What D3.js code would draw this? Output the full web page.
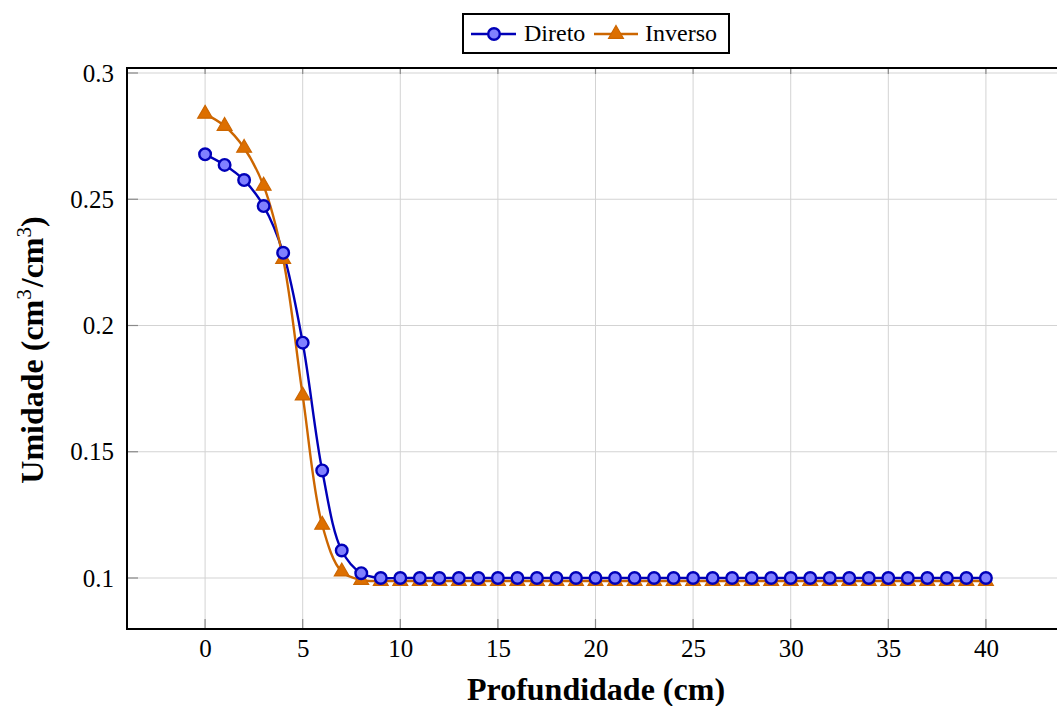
<!DOCTYPE html>
<html>
<head>
<meta charset="utf-8">
<script src="https://cdn.jsdelivr.net/npm/d3@7"></script>
<style>
  body { margin: 0; background: #fff; }
  svg { font-family: "Liberation Serif", "Times New Roman", serif; }
</style>
</head>
<body>
<svg id="chart" width="1057" height="706"></svg>
<script>
// depth (cm)
var depth = d3.range(0, 41);

var direto = [0.2678, 0.2636, 0.2576, 0.2473, 0.2288, 0.1932, 0.1426, 0.1109, 0.1019,
  0.1000, 0.1000, 0.1000, 0.1000, 0.1000, 0.1000, 0.1000, 0.1000, 0.1000, 0.1000, 0.1000,
  0.1000, 0.1000, 0.1000, 0.1000, 0.1000, 0.1000, 0.1000, 0.1000, 0.1000, 0.1000, 0.1000,
  0.1000, 0.1000, 0.1000, 0.1000, 0.1000, 0.1000, 0.1000, 0.1000, 0.1000, 0.1000];

var inverso = [0.2838, 0.2790, 0.2703, 0.2553, 0.2263, 0.1722, 0.1210, 0.1025, 0.0992,
  0.0988, 0.0988, 0.0988, 0.0988, 0.0988, 0.0988, 0.0988, 0.0988, 0.0988, 0.0988, 0.0988,
  0.0988, 0.0988, 0.0988, 0.0988, 0.0988, 0.0988, 0.0988, 0.0988, 0.0988, 0.0988, 0.0988,
  0.0988, 0.0988, 0.0988, 0.0988, 0.0988, 0.0988, 0.0988, 0.0988, 0.0988, 0.0988];

var xTicks = [0, 5, 10, 15, 20, 25, 30, 35, 40];
var yTicks = [0.1, 0.15, 0.2, 0.25, 0.3];

var svg = d3.select("#chart"),
    margin = {top: 68, left: 127},
    plotRight = 1064,
    plotBottom = 629;

var x = d3.scaleLinear().domain([-4, 44]).range([margin.left, plotRight]);
var y = d3.scaleLinear().domain([0.3, 0.1]).range([73, 578]);

var gridColor = "#d3d3d3";

// grid
svg.append("g").selectAll("line").data(xTicks).join("line")
    .attr("x1", d => x(d)).attr("x2", d => x(d))
    .attr("y1", margin.top).attr("y2", plotBottom)
    .attr("stroke", gridColor).attr("stroke-width", 1);
svg.append("g").selectAll("line").data(yTicks).join("line")
    .attr("y1", d => y(d)).attr("y2", d => y(d))
    .attr("x1", margin.left).attr("x2", plotRight)
    .attr("stroke", gridColor).attr("stroke-width", 1);

// inner tick marks
var tickColor = "#8a8a8a";
xTicks.forEach(function(t) {
  svg.append("line").attr("x1", x(t)).attr("x2", x(t)).attr("y1", plotBottom).attr("y2", plotBottom - 10)
    .attr("stroke", tickColor).attr("stroke-width", 1.2);
  svg.append("line").attr("x1", x(t)).attr("x2", x(t)).attr("y1", margin.top).attr("y2", margin.top + 6)
    .attr("stroke", tickColor).attr("stroke-width", 1.2);
});
yTicks.forEach(function(t) {
  svg.append("line").attr("x1", margin.left).attr("x2", margin.left + 11).attr("y1", y(t)).attr("y2", y(t))
    .attr("stroke", tickColor).attr("stroke-width", 1.2);
});

// axes labels
var xAxis = d3.axisBottom(x).tickValues(xTicks).tickSize(0).tickPadding(10).tickFormat(d3.format("d"));
var yAxis = d3.axisLeft(y).tickValues(yTicks).tickSize(0).tickPadding(13).tickFormat(d => String(d));

var gx = svg.append("g").attr("transform", "translate(0," + plotBottom + ")").call(xAxis);
var gy = svg.append("g").attr("transform", "translate(" + margin.left + ",0)").call(yAxis);
[gx, gy].forEach(function(g) {
  g.select(".domain").remove();
  g.selectAll("text").attr("font-size", 25).attr("fill", "#000")
    .attr("font-family", "Liberation Serif, serif");
});

// frame
svg.append("rect")
    .attr("x", margin.left).attr("y", margin.top)
    .attr("width", plotRight - margin.left).attr("height", plotBottom - margin.top)
    .attr("fill", "none").attr("stroke", "#000").attr("stroke-width", 2);

// series
var blue = "#0000b8", blueFill = "#8080ff";
var orange = "#cc6600", orangeFill = "#dd6f00";

var line = d3.line()
    .curve(d3.curveCatmullRom.alpha(0.5))
    .x((d, i) => x(depth[i]))
    .y(d => y(d));

svg.append("path").datum(direto).attr("d", line)
    .attr("fill", "none").attr("stroke", blue).attr("stroke-width", 2.4);
svg.append("path").datum(inverso).attr("d", line)
    .attr("fill", "none").attr("stroke", orange).attr("stroke-width", 2.4);

var tri = d3.symbol().type(d3.symbolTriangle).size(95);

svg.append("g").selectAll("path").data(inverso).join("path")
    .attr("d", tri)
    .attr("transform", (d, i) => "translate(" + x(depth[i]) + "," + y(d) + ")")
    .attr("fill", orangeFill).attr("stroke", orange).attr("stroke-width", 1.2);

svg.append("g").selectAll("circle").data(direto).join("circle")
    .attr("cx", (d, i) => x(depth[i])).attr("cy", d => y(d)).attr("r", 5.8)
    .attr("fill", blueFill).attr("stroke", blue).attr("stroke-width", 2.4);

// axis titles
svg.append("text")
    .attr("x", 596).attr("y", 700)
    .attr("text-anchor", "middle").attr("font-size", 32).attr("font-weight", "bold")
    .text("Profundidade (cm)");

var yt = svg.append("text")
    .attr("transform", "translate(43,350) rotate(-90)")
    .attr("text-anchor", "middle").attr("font-size", 32).attr("font-weight", "bold");
yt.append("tspan").text("Umidade (cm");
yt.append("tspan").attr("font-size", 21).attr("font-weight", "normal").attr("dy", -12).text("3");
yt.append("tspan").attr("dy", 12).attr("dx", 2).text("/cm");
yt.append("tspan").attr("font-size", 21).attr("font-weight", "normal").attr("dy", -12).text("3");
yt.append("tspan").attr("dy", 12).text(")");

// legend
var lg = svg.append("g");
lg.append("rect").attr("x", 463).attr("y", 14).attr("width", 266).attr("height", 39)
    .attr("fill", "#fff").attr("stroke", "#000").attr("stroke-width", 2);
lg.append("line").attr("x1", 471).attr("x2", 516).attr("y1", 34).attr("y2", 34)
    .attr("stroke", blue).attr("stroke-width", 2.4);
lg.append("circle").attr("cx", 494).attr("cy", 34).attr("r", 5.8)
    .attr("fill", blueFill).attr("stroke", blue).attr("stroke-width", 2.4);
lg.append("text").attr("x", 524).attr("y", 41).attr("font-size", 24).text("Direto");
lg.append("line").attr("x1", 594).attr("x2", 638).attr("y1", 34).attr("y2", 34)
    .attr("stroke", orange).attr("stroke-width", 2.4);
lg.append("path").attr("d", tri).attr("transform", "translate(616,34)")
    .attr("fill", orangeFill).attr("stroke", orange).attr("stroke-width", 1.2);
lg.append("text").attr("x", 645).attr("y", 41).attr("font-size", 24).text("Inverso");
</script>
</body>
</html>
